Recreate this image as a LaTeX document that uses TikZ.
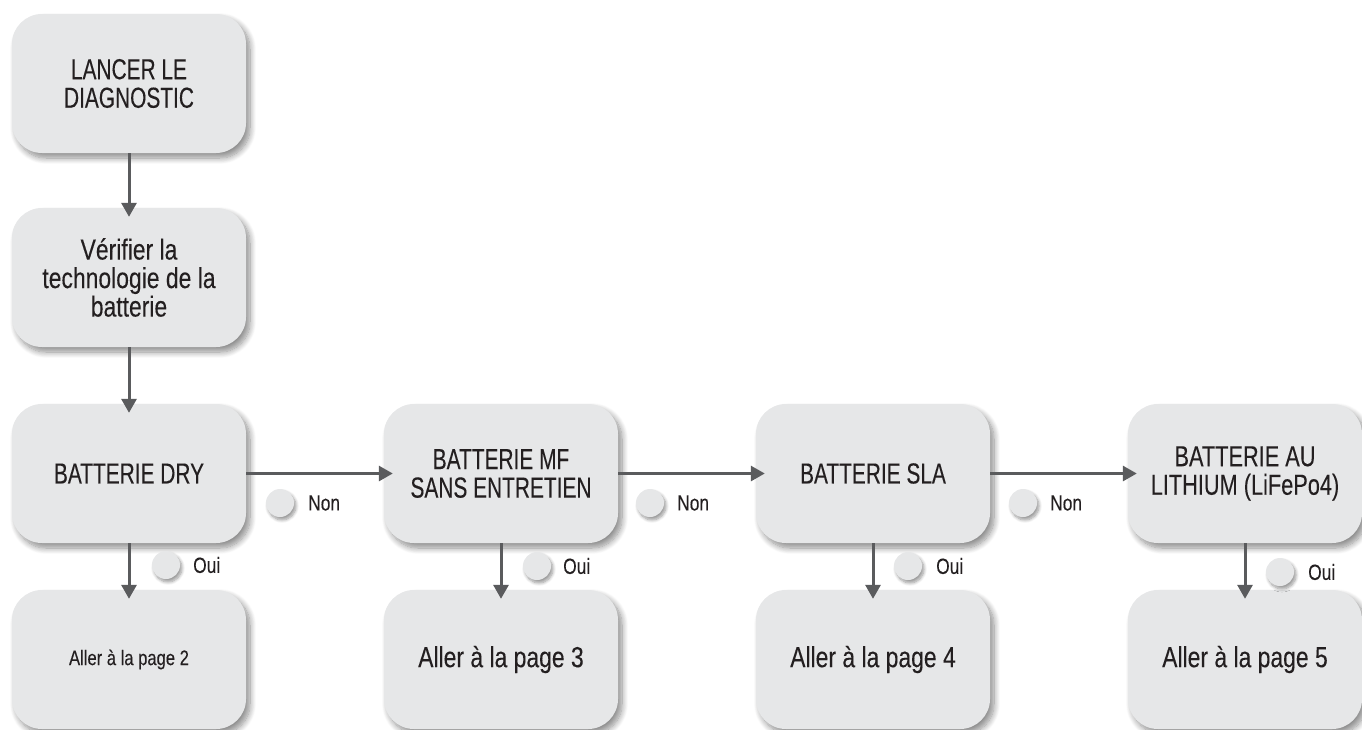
\documentclass[tikz,border=0pt]{standalone}
\usepackage{fontspec}
\setmainfont{Liberation Sans}[FakeStretch=0.79,FakeBold=0.15]
\newfontfamily\capsfont{Liberation Sans}[FakeStretch=0.72,FakeBold=0.15]
\newfontfamily\midfont{Liberation Sans}[FakeStretch=0.75,FakeBold=0.15]
\usetikzlibrary{arrows.meta,shadows.blur}
\definecolor{boxgray}{HTML}{E6E7E8}
\definecolor{txt}{HTML}{231F20}
\definecolor{arr}{HTML}{5A5B5D}
\tikzset{
  stepbox/.style={rectangle, rounded corners=30pt, minimum width=234pt, minimum height=139pt,
    fill=boxgray, text=txt, align=center, font=\fontsize{29pt}{28.5pt}\selectfont,
    blur shadow={shadow xshift=4pt, shadow yshift=-5pt, shadow blur steps=10, shadow opacity=45, shadow blur radius=6pt}},
  flow/.style={draw=arr, line width=3pt, -{Triangle[length=14pt,width=15pt]}, shorten >=-9pt},
  dot/.style={circle, minimum size=28pt, inner sep=0pt, fill=boxgray,
    blur shadow={shadow xshift=2pt, shadow yshift=-3pt, shadow blur steps=8, shadow opacity=40, shadow blur radius=3pt}},
  lbl/.style={anchor=west, inner sep=0pt, text=txt, font=\fontsize{22pt}{24pt}\selectfont}
}
\begin{document}
\begin{tikzpicture}[x=1pt,y=-1pt]
\useasboundingbox (0,0) rectangle (1362,729);
% boxes
\node[stepbox] (start) at (129,83.5) {\capsfont LANCER LE\\\capsfont DIAGNOSTIC};
\node[stepbox] (verif) at (129,277.5) {Vérifier la\\technologie de la\\batterie};
\node[stepbox] (dry) at (129,473.5) {\capsfont BATTERIE DRY};
\node[stepbox] (mf) at (501,473.5) {\capsfont BATTERIE MF\\\capsfont SANS ENTRETIEN};
\node[stepbox] (sla) at (873,473.5) {\capsfont BATTERIE SLA};
\node[stepbox] (li) at (1245,473.5) {\midfont BATTERIE AU\\\midfont LITHIUM (LiFePo4)};
\node[stepbox, font=\fontsize{21pt}{23pt}\selectfont] (p2) at (129,659.5) {Aller à la page 2};
\node[stepbox] (p3) at (501,659.5) {Aller à la page 3};
\node[stepbox] (p4) at (873,659.5) {Aller à la page 4};
\node[stepbox] (p5) at (1245,659.5) {Aller à la page 5};
% connectors
\draw[flow] (start.south) -- (verif.north);
\draw[flow] (verif.south) -- (dry.north);
\draw[flow] (dry.east) -- (mf.west);
\draw[flow] (mf.east) -- (sla.west);
\draw[flow] (sla.east) -- (li.west);
\draw[flow] (dry.south) -- (p2.north);
\draw[flow] (mf.south) -- (p3.north);
\draw[flow] (sla.south) -- (p4.north);
\draw[flow] (li.south) -- (p5.north);
% labels
\node[dot] (n1) at (280,503) {};
\node[lbl] (n1t) at (308,503) {Non};
\node[dot] (n2) at (650,503) {};
\node[lbl] (n2t) at (677,503) {Non};
\node[dot] (n3) at (1023,503) {};
\node[lbl] (n3t) at (1050,503) {Non};
\node[dot] (o1) at (166,565) {};
\node[lbl] (o1t) at (193,565) {Oui};
\node[dot] (o2) at (537,566) {};
\node[lbl] (o2t) at (563,566) {Oui};
\node[dot] (o3) at (908,566) {};
\node[lbl] (o3t) at (936,566) {Oui};
\node[dot] (o4) at (1280,572) {};
\node[lbl] (o4t) at (1308,572) {Oui};
\end{tikzpicture}
\end{document}
